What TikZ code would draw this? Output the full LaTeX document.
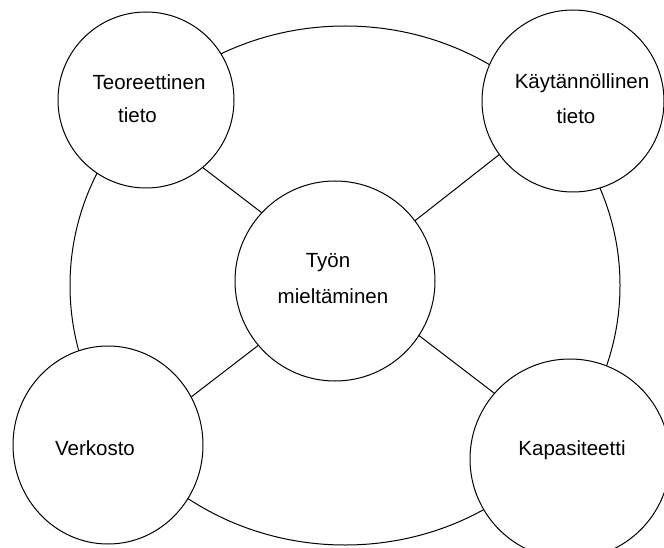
\documentclass[tikz,border=0pt]{standalone}
\usepackage{fontspec}
\setmainfont{Liberation Sans}
\usetikzlibrary{shapes.geometric}
\begin{document}
\begin{tikzpicture}[x=1pt,y=-1pt,
  bubble/.style={draw=black,fill=white,circle,line width=1pt,inner sep=0pt,outer sep=0pt},
  txt/.style={anchor=base,inner sep=0pt,font=\fontsize{20.5}{24}\selectfont},
  link/.style={draw=black,line width=1pt}]
\useasboundingbox (0,0) rectangle (664,548);
\draw[line width=1pt] (345,285.5) ellipse [x radius=275, y radius=259.5];
\node[bubble,minimum size=176pt] (teo) at (146,100) {};
\node[bubble,minimum size=182pt] (kay) at (573,101) {};
\node[bubble,minimum size=200pt] (tyo) at (335,281) {};
\node[bubble,ellipse,minimum width=190pt,minimum height=198pt] (ver) at (108,445) {};
\node[bubble,minimum size=200pt] (kap) at (570,459) {};
\draw[link] (teo.310) -- (tyo.137);
\draw[link] (kay.216) -- (tyo.37);
\draw[link] (ver.30) -- (tyo.220);
\draw[link] (kap.139) -- (tyo.327);
\node[txt] (teo1) at (149,90) {Teoreettinen};
\node[txt] (teo2) at (137.5,123) {tieto};
\node[txt] (kay1) at (582,89) {Käytännöllinen};
\node[txt] (kay2) at (576,124) {tieto};
\node[txt] (tyo1) at (328,268) {Työn};
\node[txt] (tyo2) at (333,303) {mieltäminen};
\node[txt] (ver1) at (95,455) {Verkosto};
\node[txt] (kap1) at (572,455) {Kapasiteetti};
\end{tikzpicture}
\end{document}
